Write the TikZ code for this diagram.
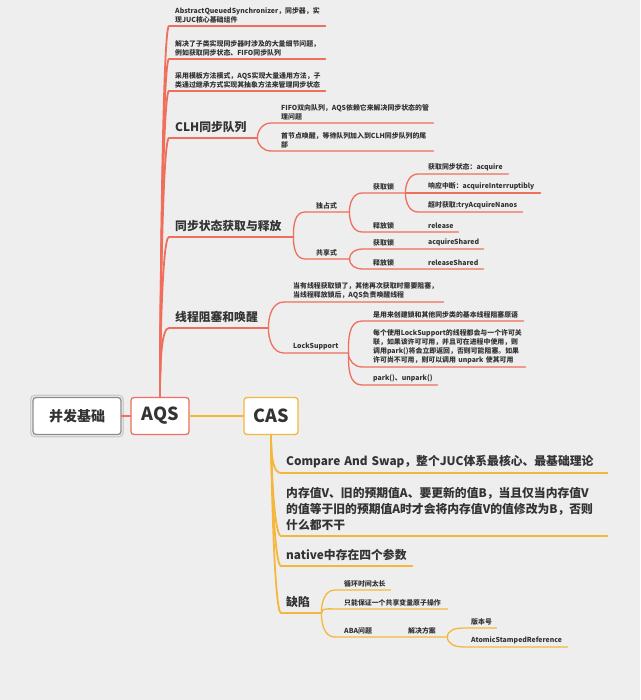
\documentclass[tikz,border=0pt]{standalone}
\usepackage{fontspec}
\setmainfont{Noto Sans CJK SC}
\usepackage{xcolor}
\usepackage{tikz}
\usetikzlibrary{positioning, calc}

\definecolor{bgcol}{HTML}{EEEEEE}
\definecolor{aqsred}{HTML}{EF6E5C}
\definecolor{casyel}{HTML}{F5B73B}
\definecolor{txt}{HTML}{333333}

\begin{document}
\begin{tikzpicture}[x=1pt, y=-1pt,
  topic/.style={anchor=south west, inner ysep=3pt, align=left, text=txt, font=\fontsize{6.9}{8.8}\selectfont\bfseries},
  bigtopic/.style={topic, inner ysep=5pt, font=\fontsize{11.8}{16}\selectfont\bfseries},
  mainbox/.style={rounded corners=3pt, fill=white, line width=1.3pt, text=txt, minimum height=37pt, font=\fontsize{18}{18}\selectfont\bfseries},
  redline/.style={draw=aqsred, line width=1.3pt, line cap=round},
  yelline/.style={draw=casyel, line width=1.3pt, line cap=round}]
  % Background
  \fill[bgcol] (0,0) rectangle (640,700);
  \useasboundingbox (0,0) rectangle (640,700);
  % Central topics
  \node[mainbox, draw=black!45, minimum width=88pt, font=\fontsize{14}{14}\selectfont\bfseries] (root) at (77,416) {并发基础};
  \node[mainbox, draw=aqsred, minimum width=58pt] (aqs) at (160,416) {AQS};
  \node[mainbox, draw=casyel, minimum width=54pt] (cas) at (271,416) {CAS};
  \draw[black!20, line width=1.2pt, rounded corners=4pt] ($(root.south west)+(-1.6,1.6)$) rectangle ($(root.north east)+(1.6,-1.6)$);
  % AQS topics
  \node[topic, inner xsep=6pt, text width=144pt] (a1) at (169,26) {AbstractQueuedSynchronizer，同步器，实\\现JUC核心基础组件};
  \node[topic, inner xsep=6pt, text width=144pt] (a2) at (169,59) {解决了子类实现同步器时涉及的大量细节问题，\\例如获取同步状态、FIFO同步队列};
  \node[topic, inner xsep=6pt, text width=144pt] (a3) at (169,91) {采用模板方法模式，AQS实现大量通用方法，子\\类通过继承方式实现其抽象方法来管理同步状态};
  \node[bigtopic, inner xsep=6pt, text width=76pt] (a4) at (169,138) {CLH同步队列};
  \node[bigtopic, inner xsep=6pt, text width=112pt] (a5) at (169,237) {同步状态获取与释放};
  \node[bigtopic, inner xsep=6pt, text width=87pt] (a6) at (169,328) {线程阻塞和唤醒};
  % CLH
  \node[topic, inner xsep=10pt, text width=142pt] (b1) at (271,123) {FIFO双向队列，AQS依赖它来解决同步状态的管\\理问题};
  \node[topic, inner xsep=10pt, text width=142pt] (b2) at (271,151) {首节点唤醒，等待队列加入到CLH同步队列的尾\\部};
  % acquire / release
  \node[topic, inner xsep=11pt, text width=22pt] (d1) at (305,212) {独占式};
  \node[topic, inner xsep=11pt, text width=22pt] (d2) at (305,259) {共享式};
  \node[topic, inner xsep=11pt, text width=21pt] (e1) at (362,193) {获取锁};
  \node[topic, inner xsep=11pt, text width=34pt] (e2) at (362,232) {释放锁};
  \node[topic, inner xsep=11pt, text width=34pt] (e3) at (362,249) {获取锁};
  \node[topic, inner xsep=11pt, text width=34pt] (e4) at (362,269) {释放锁};
  \node[topic, inner xsep=10pt, text width=70pt] (f1) at (418,174) {获取同步状态：acquire};
  \node[topic, inner xsep=10pt, text width=102pt] (f2) at (418,193) {响应中断：acquireInterruptibly};
  \node[topic, inner xsep=10pt, text width=84pt] (f3) at (418,212) {超时获取:tryAcquireNanos};
  \node[topic, inner xsep=10pt, text width=20pt] (g1) at (418,232) {release};
  \node[topic, inner xsep=10pt, text width=45pt] (g2) at (418,249) {acquireShared};
  \node[topic, inner xsep=10pt, text width=45pt] (g3) at (418,269) {releaseShared};
  % blocking
  \node[topic, inner xsep=9pt, text width=141pt] (h1) at (284,302) {当有线程获取锁了，其他再次获取时需要阻塞，\\当线程释放锁后，AQS负责唤醒线程};
  \node[topic, inner xsep=9pt, text width=46pt] (h2) at (284,353) {LockSupport};
  \node[topic, inner xsep=11pt, text width=139pt] (i1) at (362,321) {是用来创建锁和其他同步类的基本线程阻塞原语};
  \node[topic, inner xsep=11pt, text width=141pt] (i2) at (362,367) {每个使用LockSupport的线程都会与一个许可关\\联，如果该许可可用，并且可在进程中使用，则\\调用park()将会立即返回，否则可能阻塞。如果\\许可尚不可用，则可以调用 unpark 使其可用};
  \node[topic, inner xsep=11pt, text width=53pt] (i3) at (362,385) {park()、unpark()};
  % CAS topics
  \node[bigtopic, inner xsep=5pt, text width=316pt] (k1) at (281,473) {Compare And Swap，整个JUC体系最核心、最基础理论};
  \node[bigtopic, inner xsep=5pt, text width=316pt] (k2) at (281,536) {内存值V、旧的预期值A、要更新的值B，当且仅当内存值V\\的值等于旧的预期值A时才会将内存值V的值修改为B，否则\\什么都不干};
  \node[bigtopic, inner xsep=5pt, text width=121pt] (k3) at (281,566) {native中存在四个参数};
  \node[bigtopic, inner xsep=5pt, text width=30pt] (k4) at (281,613) {缺陷};
  \node[topic, inner xsep=9pt, text width=37pt] (m1) at (335,590) {循环时间太长};
  \node[topic, inner xsep=9pt, text width=94pt] (m2) at (335,609) {只能保证一个共享变量原子操作};
  \node[topic, inner xsep=9pt, text width=47pt] (m3) at (335,637) {ABA问题};
  \node[topic, inner xsep=8pt, text width=31pt] (n1) at (400,637) {解决方案};
  \node[topic, inner xsep=8pt, text width=17pt] (p1) at (463,628) {版本号};
  \node[topic, inner xsep=8pt, text width=88pt] (p2) at (463,647) {AtomicStampedReference};

  % Links between central topics
  \draw[redline, line width=1.6pt] (root.east) -- (aqs.west);
  \draw[yelline, line width=1.6pt] (aqs.east) -- (cas.west);
  % AQS branches
  \foreach \c in {a1,a2,a3,a4,a5,a6}
    \draw[redline, line width=1.8pt] (aqs.north) .. controls +(0,-40) and ($(\c.south west)+(-7,0)$) .. (\c.south west) -- (\c.south east);
  \draw[redline] (a4.south east) to[out=90,in=180] (b1.south west) -- (b1.south east);
  \draw[redline] (a4.south east) to[out=270,in=180] (b2.south west) -- (b2.south east);
  \draw[redline] (a5.south east) to[out=90,in=180] (d1.south west) -- (d1.south east);
  \draw[redline] (a5.south east) to[out=270,in=180] (d2.south west) -- (d2.south east);
  \draw[redline] (d1.south east) to[out=90,in=180] (e1.south west) -- (e1.south east);
  \draw[redline] (d1.south east) to[out=270,in=180] (e2.south west) -- (e2.south east) -- (g1.south east);
  \draw[redline] (d2.south east) to[out=90,in=180] (e3.south west) -- (e3.south east) -- (g2.south east);
  \draw[redline] (d2.south east) to[out=270,in=180] (e4.south west) -- (e4.south east) -- (g3.south east);
  \draw[redline] (e1.south east) to[out=90,in=180] (f1.south west) -- (f1.south east);
  \draw[redline] (e1.south east) -- (f2.south west) -- (f2.south east);
  \draw[redline] (e1.south east) to[out=270,in=180] (f3.south west) -- (f3.south east);
  \draw[redline] (a6.south east) to[out=90,in=180] (h1.south west) -- (h1.south east);
  \draw[redline] (a6.south east) to[out=270,in=180] (h2.south west) -- (h2.south east);
  \draw[redline] (h2.south east) to[out=90,in=180] (i1.south west) -- (i1.south east);
  \draw[redline] (h2.south east) to[out=270,in=180] (i2.south west) -- (i2.south east);
  \draw[redline] (h2.south east) to[out=270,in=180] (i3.south west) -- (i3.south east);
  % CAS branches
  \foreach \c in {k1,k2,k3,k4}
    \draw[yelline, line width=1.8pt] (cas.south) .. controls +(0,25) and ($(\c.south west)+(-7,0)$) .. (\c.south west) -- (\c.south east);
  \draw[yelline] (k4.south east) to[out=90,in=180] (m1.south west) -- (m1.south east);
  \draw[yelline] (k4.south east) to[out=90,in=180] (m2.south west) -- (m2.south east);
  \draw[yelline] (k4.south east) to[out=270,in=180] (m3.south west) -- (m3.south east) -- (n1.south east);
  \draw[yelline] (n1.south east) to[out=90,in=180] (p1.south west) -- (p1.south east);
  \draw[yelline] (n1.south east) to[out=270,in=180] (p2.south west) -- (p2.south east);
\end{tikzpicture}
\end{document}
